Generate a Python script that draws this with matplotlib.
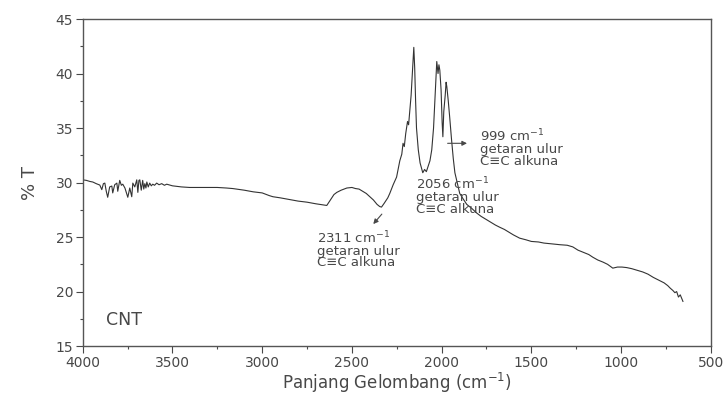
import matplotlib
matplotlib.use("Agg")
import matplotlib.pyplot as plt
from matplotlib.ticker import MultipleLocator

plt.rcParams['font.family'] = ['DejaVu Sans']

# FTIR spectrum of CNT (wavenumber cm^-1, %T)
wavenumber = [
    4000, 3980, 3960, 3944, 3925, 3905, 3894, 3885, 3877, 3869, 3861, 3850, 3838, 3833,
    3822, 3810, 3805, 3794, 3785, 3777, 3765, 3749, 3742, 3738, 3727, 3721, 3710, 3699,
    3693, 3687, 3682, 3674, 3666, 3660, 3654, 3648, 3643, 3635, 3627, 3618, 3610, 3600,
    3588, 3575, 3560, 3545, 3532, 3500, 3450, 3404, 3350, 3300, 3250, 3200, 3164, 3100,
    3050, 3000, 2960, 2940, 2900, 2850, 2800, 2750, 2700, 2662, 2640, 2620, 2600, 2584,
    2560, 2528, 2500, 2480, 2460, 2440, 2420, 2400, 2380, 2360, 2345, 2335, 2320, 2300,
    2289, 2270, 2251, 2233, 2222, 2215, 2208, 2200, 2190, 2184, 2177, 2170, 2165, 2160,
    2155, 2150, 2145, 2140, 2130, 2120, 2110, 2105, 2095, 2085, 2075, 2065, 2055, 2045,
    2035, 2027, 2020, 2015, 2010, 2003, 1997, 1993, 1988, 1980, 1975, 1971, 1963, 1955,
    1945, 1935, 1926, 1910, 1899, 1880, 1860, 1830, 1804, 1780, 1750, 1720, 1700, 1676,
    1650, 1620, 1600, 1565, 1530, 1500, 1460, 1430, 1397, 1370, 1341, 1300, 1269, 1240,
    1210, 1180, 1157, 1130, 1100, 1075, 1046, 1020, 995, 968, 940, 910, 879, 850, 820,
    784, 760, 740, 725, 711, 700, 690, 680, 670, 660, 655,
]
transmittance = [
    30.25, 30.2, 30.1, 30.05, 29.9, 29.77, 29.35, 29.9, 29.95, 29.2, 28.65, 29.6, 29.68, 29.05,
    29.8, 29.95, 29.2, 30.2, 29.75, 29.85, 29.5, 28.65, 29.2, 29.5, 28.7, 29.95, 29.6, 30.25,
    29.1, 30.2, 30.25, 29.3, 30.2, 29.4, 29.9, 29.5, 30.05, 29.6, 29.95, 29.7, 29.85, 29.75,
    29.95, 29.8, 29.9, 29.75, 29.85, 29.7, 29.6, 29.55, 29.55, 29.55, 29.55, 29.5, 29.45, 29.3,
    29.15, 29.05, 28.8, 28.7, 28.6, 28.45, 28.3, 28.2, 28.05, 27.95, 27.9, 28.4, 28.9, 29.1,
    29.3, 29.5, 29.55, 29.45, 29.4, 29.2, 29.0, 28.7, 28.4, 28.0, 27.8, 27.75, 28.1, 28.6,
    29.0, 29.8, 30.5, 32.0, 32.6, 33.6, 33.3, 34.5, 35.6, 35.3, 36.6, 38.0, 39.5, 41.0,
    42.4, 40.5, 37.5, 35.0, 33.0, 31.8, 31.2, 30.9, 31.2, 31.0, 31.5, 32.0, 33.0, 35.0,
    38.5, 41.1, 40.0, 40.8, 40.3, 38.5, 35.5, 34.2, 36.5, 38.0, 39.2, 38.8, 37.5, 36.0,
    34.0, 32.2, 30.9, 29.8, 29.0, 28.5, 28.0, 27.6, 27.2, 26.9, 26.6, 26.3, 26.1, 25.9,
    25.7, 25.4, 25.2, 24.9, 24.75, 24.6, 24.55, 24.45, 24.4, 24.35, 24.3, 24.25, 24.1, 23.8,
    23.6, 23.4, 23.15, 22.9, 22.7, 22.5, 22.15, 22.25, 22.25, 22.2, 22.1, 21.95, 21.8, 21.6, 21.3,
    21.0, 20.8, 20.55, 20.3, 20.1, 19.9, 20.0, 19.5, 19.7, 19.3, 19.1,
]

x_ticks = [4000, 3500, 3000, 2500, 2000, 1500, 1000, 500]
y_ticks = [15, 20, 25, 30, 35, 40, 45]

# (label, arrow tail, arrow head, text anchor (left, middle line))
annotations = [
    ("2311 cm$^{-1}$\ngetaran ulur\nC\u2261C alkuna", (2323, 27.3), (2391, 26.0), (2697, 23.87)),
    ("2056 cm$^{-1}$\ngetaran ulur\nC\u2261C alkuna", None, None, (2140, 28.76)),
    ("999 cm$^{-1}$\ngetaran ulur\nC\u2261C alkuna", (1982, 33.6), (1843, 33.6), (1787, 33.17)),
]

gray = '#484848'

fig = plt.figure(figsize=(7.26, 3.96), dpi=100)
ax = fig.add_axes([0.114, 0.126, 0.865, 0.826])

ax.plot(wavenumber, transmittance, color='#333333', lw=0.8)

ax.set_xlim(4000, 500)
ax.set_ylim(15, 45)
ax.set_xticks(x_ticks)
ax.set_yticks(y_ticks)
ax.xaxis.set_minor_locator(MultipleLocator(250))
ax.yaxis.set_minor_locator(MultipleLocator(2.5))
ax.tick_params(axis='both', which='major', direction='out', length=5, width=0.8,
               colors=gray, labelsize=10, labelcolor=gray, pad=2)
ax.tick_params(axis='both', which='minor', direction='out', length=2.5, width=0.8, colors=gray)
ax.tick_params(top=False, right=False, which='both')
for s in ax.spines.values():
    s.set_color('#555555')
    s.set_linewidth(1.0)

ax.set_xlabel('Panjang Gelombang (cm$^{-1}$)', fontsize=12, color=gray, labelpad=1)
ax.set_ylabel('% T', fontsize=13, color=gray, labelpad=12)

ax.text(3870, 16.9, 'CNT', fontsize=12.5, color=gray)

for label, tail, head, pos in annotations:
    if tail is not None:
        ax.annotate('', xy=head, xytext=tail,
                    arrowprops=dict(arrowstyle='-|>', color=gray, lw=0.8, mutation_scale=7))
    ax.text(pos[0], pos[1], label, fontsize=9.5, color=gray, ha='left', va='center',
            linespacing=0.88)

fig.savefig('out.png', dpi=100, facecolor='white')
